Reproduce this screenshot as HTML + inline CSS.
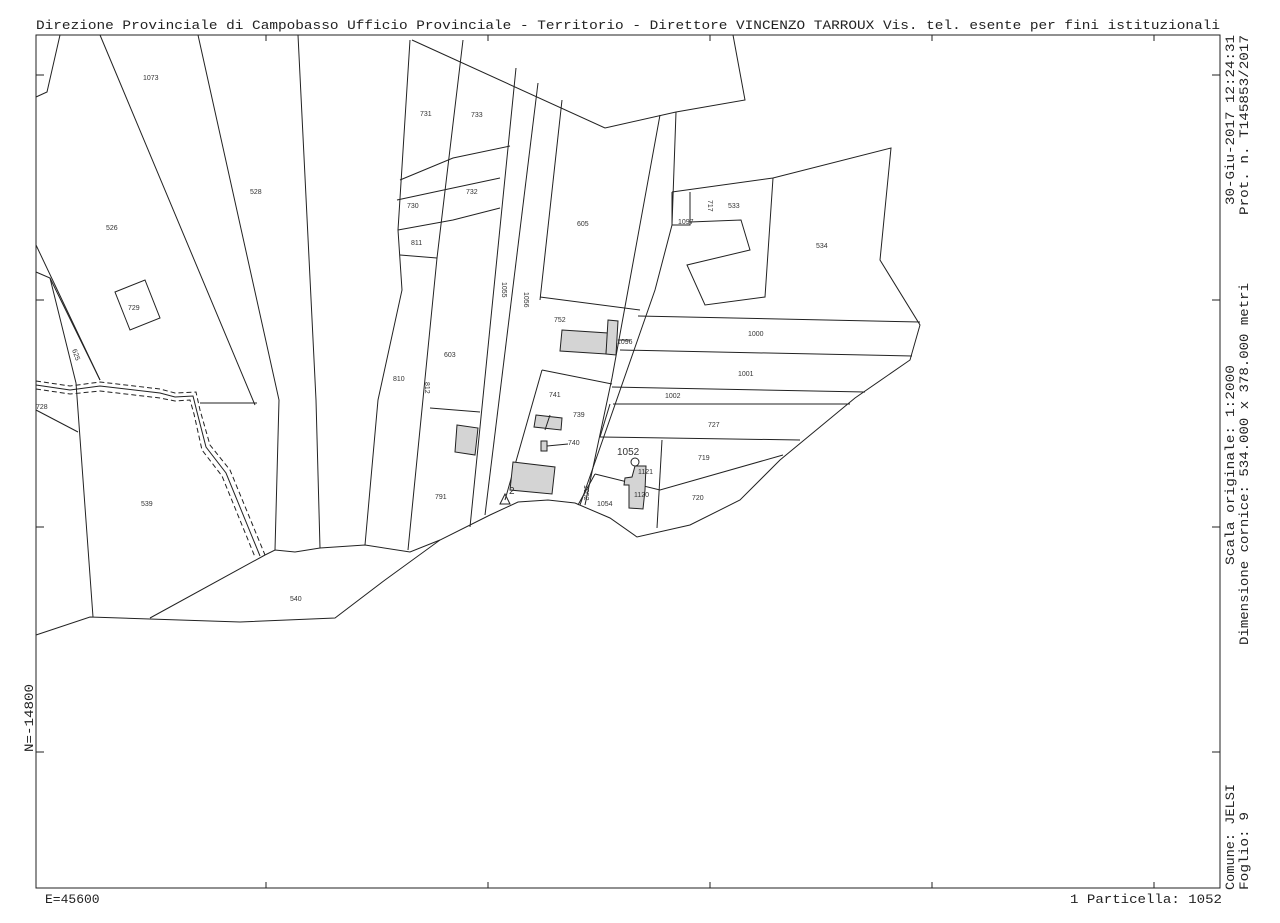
<!DOCTYPE html>
<html><head><meta charset="utf-8"><style>
html,body{margin:0;padding:0;background:#fff;}
svg{display:block}
.m{font-family:"Liberation Mono",monospace;fill:#222}
.l{font-family:"Liberation Sans",sans-serif;font-size:7px;fill:#333}
</style></head><body>
<svg width="1280" height="923" viewBox="0 0 1280 923" xmlns="http://www.w3.org/2000/svg">
<g stroke="#222" stroke-width="1" fill="none">
<rect x="36" y="35" width="1184" height="853"/>
<path d="M36,75h8 M36,300h8 M36,527h8 M36,752h8 M266,35v6 M488,35v6 M710,35v6 M932,35v6 M1154,35v6 M1212,75h8 M1212,300h8 M1212,527h8 M1212,752h8 M266,882v6 M488,882v6 M710,882v6 M932,882v6 M1154,882v6"/>
<path d="M60,35 L47,92 L36,97"/>
<path d="M100,35 L255,405"/>
<path d="M198,35 L279,400 L275,550"/>
<path d="M298,35 L316,400 L320,548"/>
<path d="M36,245 L100,380"/>
<path d="M36,272 L50,278 L100,380"/>
<path d="M50,278 L76,383 L93,617"/>
<path d="M36,410 L78,432"/>
<path d="M200,403 L257,403"/>
<path d="M115,292 L145,280 L160,318 L130,330 Z"/>
<path d="M36,381 L70,386 L100,382 L160,389 L175,393 L196,392 L200,410 L210,445 L230,470 L265,555" stroke-dasharray="5,3"/>
<path d="M36,385 L70,390 L100,386 L160,393 L175,397 L193,396 L197,412 L206,447 L226,473 L260,556"/>
<path d="M36,389 L70,394 L100,391 L160,398 L175,401 L190,400 L194,414 L202,450 L222,476 L255,557" stroke-dasharray="5,3"/>
<path d="M265,555 L150,618"/>
<path d="M265,555 L275,550 L295,552 L320,548 L365,545 L410,552 L440,540"/>
<path d="M36,635 L90,617 L240,622 L335,618 L385,580 L440,540 L490,515 L518,502 L548,500 L575,503 L610,518 L637,537 L690,525 L740,500 L780,460 L855,398 L910,360 L920,325 L880,260 L891,148 L773,178 L672,192"/>
<path d="M412,40 L605,128 L676,112 L745,100 L733,35"/>
<path d="M410,40 L398,230 L402,290 L378,400 L365,545"/>
<path d="M463,40 L437,258 L408,550"/>
<path d="M437,258 L400,255"/>
<path d="M400,180 L453,158 L510,146"/>
<path d="M397,200 L453,188 L500,178"/>
<path d="M398,230 L453,220 L500,208"/>
<path d="M516,68 L470,527"/>
<path d="M538,83 L485,515"/>
<path d="M562,100 L540,300"/>
<path d="M660,115 L612,378 L585,505"/>
<path d="M676,112 L672,225 L655,290 L580,505"/>
<path d="M540,297 L640,310"/>
<path d="M430,408 L480,412"/>
<path d="M542,370 L612,384"/>
<path d="M542,370 L505,500"/>
<path d="M638,316 L920,322"/>
<path d="M620,350 L912,356"/>
<path d="M612,387 L865,392"/>
<path d="M613,404 L850,404"/>
<path d="M610,404 L600,437"/>
<path d="M600,437 L800,440"/>
<path d="M662,440 L657,528"/>
<path d="M595,474 L660,490 L783,455"/>
<path d="M595,474 L578,505"/>
<path d="M672,192 L672,225 L690,225 L690,192"/>
<path d="M773,178 L765,297 L705,305 L687,265 L750,250 L741,220 L690,222"/>
<g fill="#d4d4d4">
<path d="M562,330 L608,333 L606,354 L560,351 Z"/>
<path d="M608,320 L618,321 L616,355 L606,354 Z"/>
<path d="M536,415 L562,418 L561,430 L534,427 Z"/>
<path d="M541,441 L547,441 L547,451 L541,451 Z"/>
<path d="M513,462 L555,467 L552,494 L510,490 Z"/>
<path d="M457,425 L478,428 L475,455 L455,452 Z"/>
<path d="M635,466 L646,466 L645,490 L643,509 L629,508 L629,485 L624,485 L625,478 L632,477 Z"/>
</g>
<path d="M547,446 L568,444 M545,430 L550,415 M618,340 L630,340"/>
<circle cx="635" cy="462" r="4"/>
<path d="M500,504 L505,494 L510,504 Z"/>
</g>
<g class="l">
<text x="143" y="80">1073</text><text x="250" y="194">528</text><text x="106" y="230">526</text>
<text x="128" y="310">729</text><text x="36" y="409">728</text><text x="141" y="506">539</text>
<text x="290" y="601">540</text><text x="420" y="116">731</text><text x="471" y="117">733</text>
<text x="466" y="194">732</text><text x="407" y="208">730</text><text x="411" y="245">811</text>
<text x="577" y="226">605</text><text x="678" y="224">1097</text><text x="728" y="208">533</text>
<text x="816" y="248">534</text><text x="393" y="381">810</text><text x="444" y="357">603</text>
<text x="554" y="322">752</text><text x="617" y="344">1096</text><text x="748" y="336">1000</text>
<text x="738" y="376">1001</text><text x="665" y="398">1002</text><text x="708" y="427">727</text>
<text x="549" y="397">741</text><text x="573" y="417">739</text><text x="568" y="445">740</text>
<text x="698" y="460">719</text><text x="692" y="500">720</text><text x="597" y="506">1054</text>
<text x="634" y="497">1120</text><text x="638" y="474">1121</text><text x="435" y="499">791</text>
<text font-size="10" x="617" y="455">1052</text><text font-size="10" x="509" y="494">2</text>
<text transform="translate(502,282) rotate(90)">1055</text><text transform="translate(524,292) rotate(90)">1056</text>
<text transform="translate(425,382) rotate(90)">812</text><text transform="translate(708,200) rotate(90)">717</text>
<text transform="translate(584,485) rotate(90)">1052</text><text transform="translate(72,350) rotate(70)">625</text>
</g>
<text class="m" x="36" y="29" font-size="13" textLength="1184" lengthAdjust="spacingAndGlyphs">Direzione Provinciale di Campobasso  Ufficio Provinciale - Territorio - Direttore VINCENZO TARROUX     Vis. tel. esente per fini istituzionali</text>
<text class="m" x="45" y="903" font-size="13">E=45600</text>
<text class="m" x="1070" y="903" font-size="13" textLength="152" lengthAdjust="spacingAndGlyphs">1 Particella: 1052</text>
<text class="m" font-size="13" transform="translate(33,752) rotate(-90)" textLength="68" lengthAdjust="spacingAndGlyphs">N=-14800</text>
<g class="m" font-size="13">
<text transform="translate(1234,205) rotate(-90)" textLength="170" lengthAdjust="spacingAndGlyphs">30-Giu-2017 12:24:31</text>
<text transform="translate(1248,215) rotate(-90)" textLength="180" lengthAdjust="spacingAndGlyphs">Prot. n. T145853/2017</text>
<text transform="translate(1234,565) rotate(-90)" textLength="200" lengthAdjust="spacingAndGlyphs">Scala originale: 1:2000</text>
<text transform="translate(1248,645) rotate(-90)" textLength="362" lengthAdjust="spacingAndGlyphs">Dimensione cornice: 534.000 x 378.000 metri</text>
<text transform="translate(1234,890) rotate(-90)" textLength="106" lengthAdjust="spacingAndGlyphs">Comune: JELSI</text>
<text transform="translate(1248,890) rotate(-90)" textLength="78" lengthAdjust="spacingAndGlyphs">Foglio: 9</text>
</g>
</svg>
</body></html>
